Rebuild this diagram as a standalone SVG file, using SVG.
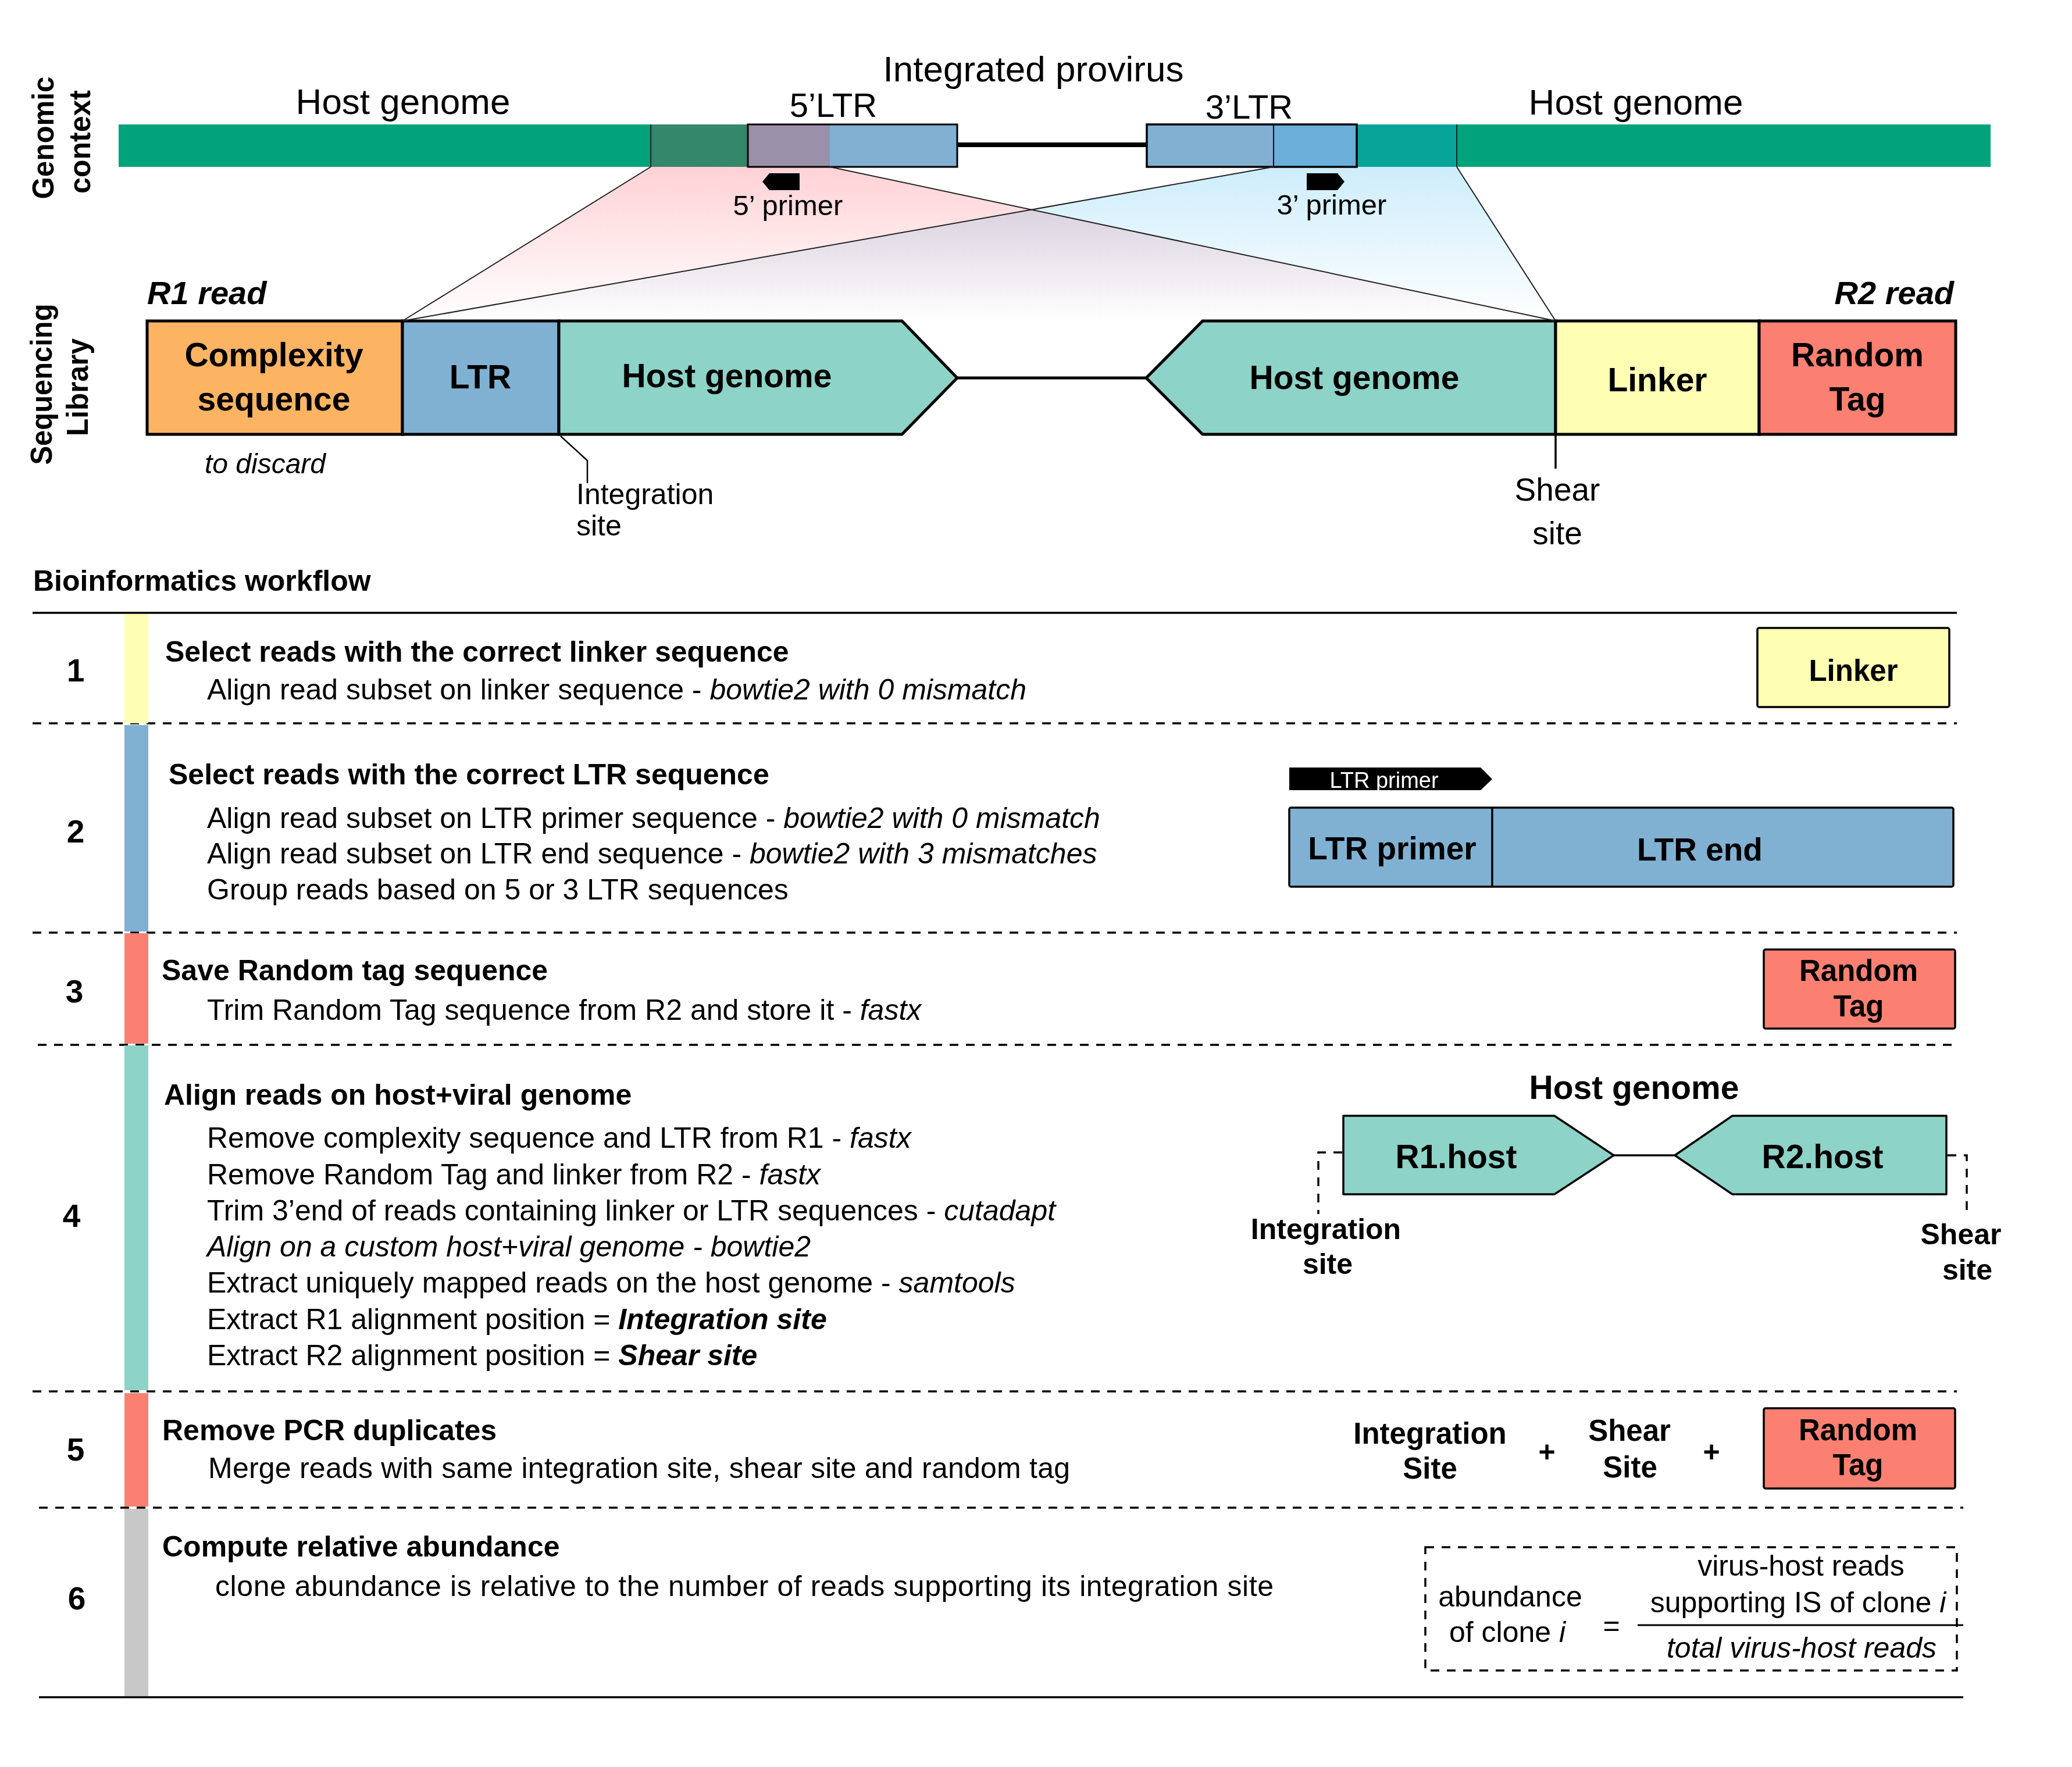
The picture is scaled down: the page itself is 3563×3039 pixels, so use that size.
<svg xmlns="http://www.w3.org/2000/svg" width="3563" height="3039" viewBox="0 0 3563 3039">
<defs>
<linearGradient id="gPink" gradientUnits="userSpaceOnUse" x1="0" y1="287" x2="0" y2="552">
<stop offset="0" stop-color="#FFD2D6"/><stop offset="1" stop-color="#FFFFFF"/>
</linearGradient>
<linearGradient id="gBlue" gradientUnits="userSpaceOnUse" x1="0" y1="287" x2="0" y2="552">
<stop offset="0" stop-color="#CDEDFC"/><stop offset="1" stop-color="#FFFFFF"/>
</linearGradient>
</defs>
<style>
text{font-family:"Liberation Sans",Arial,Helvetica,sans-serif;fill:#000}
.m{text-anchor:middle}
.e{text-anchor:end}
.b{font-weight:bold}
.i{font-style:italic}
.bi{font-weight:bold;font-style:italic}
.top{font-size:62px}
.ltr{font-size:58px}
.prm{font-size:49px}
.lab{font-size:57px;font-weight:bold}
.vert{font-size:52px;font-weight:bold}
.body{font-size:50px}
.head{font-size:50px;font-weight:bold}
.num{font-size:55px;font-weight:bold;text-anchor:middle}
.lib{stroke:#000;stroke-width:5;stroke-linejoin:miter}
.box{stroke:#000;stroke-width:3.5}
.solid{stroke:#000;stroke-width:3.5;fill:none}
.dash{stroke:#000;stroke-width:3.5;stroke-dasharray:15 13;fill:none}
.thin{stroke:#222;stroke-width:2;fill:none}
</style>
<rect x="0" y="0" width="3563" height="3039" fill="#FFFFFF"/>

<!-- side labels -->
<g id="label-genomic-context">
<text class="vert m" transform="translate(92,237) rotate(-90)" textLength="211" lengthAdjust="spacingAndGlyphs">Genomic</text>
<text class="vert m" transform="translate(155,244) rotate(-90)" textLength="178" lengthAdjust="spacingAndGlyphs">context</text>
</g>
<g id="label-sequencing-library">
<text class="vert m" transform="translate(89,661) rotate(-90)" textLength="277" lengthAdjust="spacingAndGlyphs">Sequencing</text>
<text class="vert m" transform="translate(151,666) rotate(-90)" textLength="168" lengthAdjust="spacingAndGlyphs">Library</text>
</g>

<!-- projection trapezoids -->
<g id="projection">
<polygon points="1119,287 1427,287 2675,552 692,552" fill="url(#gPink)"/>
<polygon points="2190,287 2505,287 2675,552 692,552" fill="url(#gBlue)" style="mix-blend-mode:multiply"/>
</g>

<!-- genomic context -->
<g id="genome-bar">
<rect x="204" y="214" width="915" height="73" fill="#00A37A"/>
<rect x="1119" y="214" width="167" height="73" fill="#34876A"/>
<rect x="2333" y="214" width="172" height="73" fill="#07A599"/>
<rect x="2505" y="214" width="918" height="73" fill="#00A37A"/>
<line x1="1119" y1="214" x2="1119" y2="287" stroke="#000" stroke-width="1.5"/>
<line x1="2505" y1="214" x2="2505" y2="287" stroke="#000" stroke-width="1.5"/>
</g>
<g id="ltr5">
<rect x="1286" y="214" width="141" height="73" fill="#9B90A9"/>
<rect x="1427" y="214" width="219" height="73" fill="#82B0D2"/>
<rect x="1286" y="214" width="360" height="73" fill="none" stroke="#000" stroke-width="3"/>
</g>
<g id="ltr3">
<rect x="1972" y="214" width="218" height="73" fill="#82B0D2"/>
<rect x="2190" y="214" width="143" height="73" fill="#6AAFDA"/>
<rect x="1972" y="214" width="361" height="73" fill="none" stroke="#000" stroke-width="3.5"/>
<line x1="2190" y1="214" x2="2190" y2="287" stroke="#000" stroke-width="2"/>
</g>
<g id="primer5">
<polygon points="1323,298 1375,298 1375,327 1323,327 1311,312.5" fill="#000"/>
<text class="prm m" x="1355" y="370">5’ primer</text>
</g>
<g id="primer3">
<polygon points="2247,298 2300,298 2312,312.5 2300,327 2247,327" fill="#000"/>
<text class="prm m" x="2290" y="369">3’ primer</text>
</g>
<g id="top-labels">
<text class="top m" x="693" y="196">Host genome</text>
<text class="ltr m" x="1433" y="201">5’LTR</text>
<text class="top m" x="1777" y="140">Integrated provirus</text>
<text class="ltr m" x="2148" y="204">3’LTR</text>
<text class="top m" x="2813" y="197">Host genome</text>
</g>

<!-- sequencing library -->
<g id="lib-complexity">
<rect class="lib" x="253" y="552" width="439" height="195" fill="#FDB462"/>
<text class="lab m" x="471" y="630">Complexity</text>
<text class="lab m" x="471" y="706">sequence</text>
</g>
<g id="lib-ltr">
<rect class="lib" x="692" y="552" width="269" height="195" fill="#80B1D3"/>
<text class="lab m" x="826" y="668">LTR</text>
</g>
<g id="lib-host1">
<polygon class="lib" points="961,552 1551,552 1646,650 1551,747 961,747" fill="#8DD3C7"/>
<text class="lab m" x="1250" y="666">Host genome</text>
</g>
<g id="lib-host2">
<polygon class="lib" points="1971,650 2068,552 2675,552 2675,747 2068,747" fill="#8DD3C7"/>
<text class="lab m" x="2329" y="669">Host genome</text>
</g>
<g id="lib-linker">
<rect class="lib" x="2675" y="552" width="350" height="195" fill="#FFFFB3"/>
<text class="lab m" x="2850" y="673">Linker</text>
</g>
<g id="lib-tag">
<rect class="lib" x="3025" y="552" width="338" height="195" fill="#FB8072"/>
<text class="lab m" x="3194" y="630">Random</text>
<text class="lab m" x="3194" y="706">Tag</text>
</g>
<g id="lib-labels">
<text class="bi" x="253" y="523" font-size="56">R1 read</text>
<text class="bi e" x="3360" y="523" font-size="56">R2 read</text>
<text class="i m" x="456" y="814" font-size="48">to discard</text>
<text x="991" y="867" font-size="50">Integration</text>
<text x="991" y="921" font-size="50">site</text>
<text class="m" x="2678" y="861" font-size="55">Shear</text>
<text class="m" x="2678" y="936" font-size="55">site</text>
</g>

<g id="connectors">
<line class="thin" x1="1119" y1="287" x2="692" y2="552" stroke-width="1.5"/>
<line class="thin" x1="1427" y1="287" x2="2675" y2="552"/>
<line class="thin" x1="2190" y1="287" x2="692" y2="552"/>
<line class="thin" x1="2505" y1="287" x2="2675" y2="552" stroke-width="1.5"/>
<line x1="1646" y1="249" x2="1972" y2="249" stroke="#000" stroke-width="8"/>
<line x1="1646" y1="650" x2="1971" y2="650" stroke="#000" stroke-width="5"/>
<polyline points="964,750 1010,792 1010,831" fill="none" stroke="#000" stroke-width="2.5"/>
<line x1="2675" y1="747" x2="2675" y2="806" stroke="#000" stroke-width="3.5"/>
<line x1="2775" y1="1987" x2="2880" y2="1987" stroke="#000" stroke-width="3.5"/>
<polyline class="dash" points="2308,1982 2267,1982 2267,2088" stroke-width="3" stroke-dasharray="16 14"/>
<polyline class="dash" points="3349,1987 3382,1987 3382,2092" stroke-width="3" stroke-dasharray="16 14"/>
</g>

<!-- workflow -->
<text class="head" x="57" y="1016">Bioinformatics workflow</text>
<g id="rules">
<line class="solid" x1="56" y1="1054" x2="3365" y2="1054"/>
<line class="dash" x1="56" y1="1244" x2="3365" y2="1244"/>
<line class="dash" x1="56" y1="1604" x2="3365" y2="1604"/>
<line class="dash" x1="65" y1="1797" x2="3365" y2="1797"/>
<line class="dash" x1="56" y1="2393" x2="3365" y2="2393"/>
<line class="dash" x1="67" y1="2593" x2="3376" y2="2593"/>
<line class="solid" x1="67" y1="2919" x2="3376" y2="2919"/>
</g>

<g id="step1">
<rect x="214" y="1056" width="41" height="188" fill="#FFFFB3"/>
<text class="num" x="130" y="1172">1</text>
<text class="head" x="284" y="1138">Select reads with the correct linker sequence</text>
<text class="body" x="356" y="1203">Align read subset on linker sequence - <tspan class="i">bowtie2 with 0 mismatch</tspan></text>
<rect class="box" x="3022" y="1080" width="330" height="136" rx="3" fill="#FFFFB3"/>
<text class="b m" x="3187" y="1171" font-size="51">Linker</text>
</g>

<g id="step2">
<rect x="214" y="1247" width="41" height="355" fill="#80B1D3"/>
<text class="num" x="130" y="1449">2</text>
<text class="head" x="290" y="1349">Select reads with the correct LTR sequence</text>
<text class="body" x="356" y="1424">Align read subset on LTR primer sequence - <tspan class="i">bowtie2 with 0 mismatch</tspan></text>
<text class="body" x="356" y="1485">Align read subset on LTR end sequence - <tspan class="i">bowtie2 with 3 mismatches</tspan></text>
<text class="body" x="356" y="1547">Group reads based on 5 or 3 LTR sequences</text>
<polygon points="2217,1320 2546,1320 2566,1340 2546,1359 2217,1359" fill="#000"/>
<text class="m" x="2380" y="1355" font-size="38" style="fill:#FFFFFF">LTR primer</text>
<rect class="box" x="2217" y="1389" width="1142" height="136" rx="3" fill="#80B1D3"/>
<line x1="2566" y1="1389" x2="2566" y2="1525" stroke="#000" stroke-width="3.5"/>
<text class="b m" x="2394" y="1478" font-size="55">LTR primer</text>
<text class="b m" x="2923" y="1480" font-size="55">LTR end</text>
</g>

<g id="step3">
<rect x="214" y="1605" width="41" height="190" fill="#FB8072"/>
<text class="num" x="128" y="1724">3</text>
<text class="head" x="278" y="1686">Save Random tag sequence</text>
<text class="body" x="356" y="1754">Trim Random Tag sequence from R2 and store it - <tspan class="i">fastx</tspan></text>
<rect class="box" x="3033" y="1633" width="329" height="136" rx="3" fill="#FB8072"/>
<text class="b m" x="3196" y="1687" font-size="51">Random</text>
<text class="b m" x="3196" y="1748" font-size="51">Tag</text>
</g>

<g id="step4">
<rect x="214" y="1798" width="41" height="593" fill="#8DD3C7"/>
<text class="num" x="123" y="2110">4</text>
<text class="head" x="282" y="1900">Align reads on host+viral genome</text>
<text class="body" x="356" y="1974">Remove complexity sequence and LTR from R1 - <tspan class="i">fastx</tspan></text>
<text class="body" x="356" y="2037">Remove Random Tag and linker from R2 - <tspan class="i">fastx</tspan></text>
<text class="body" x="356" y="2099">Trim 3’end of reads containing linker or LTR sequences - <tspan class="i">cutadapt</tspan></text>
<text class="body i" x="356" y="2161">Align on a custom host+viral genome - bowtie2</text>
<text class="body" x="356" y="2223">Extract uniquely mapped reads on the host genome - <tspan class="i">samtools</tspan></text>
<text class="body" x="356" y="2286">Extract R1 alignment position = <tspan class="bi">Integration site</tspan></text>
<text class="body" x="356" y="2348">Extract R2 alignment position = <tspan class="bi">Shear site</tspan></text>
<text class="b m" x="2810" y="1890" font-size="57">Host genome</text>
</g>
<g id="r1host">
<polygon class="box" points="2310,1919 2673,1919 2775,1987 2673,2054 2310,2054" fill="#8DD3C7" stroke-linejoin="round"/>
<text class="b m" x="2504" y="2009" font-size="57">R1.host</text>
</g>
<g id="r2host">
<polygon class="box" points="2880,1987 2979,1919 3347,1919 3347,2054 2979,2054" fill="#8DD3C7" stroke-linejoin="round"/>
<text class="b m" x="3134" y="2009" font-size="57">R2.host</text>
</g>
<g id="step4-labels">
<text class="b m" x="2280" y="2131" font-size="50">Integration</text>
<text class="b m" x="2283" y="2191" font-size="50">site</text>
<text class="b m" x="3372" y="2140" font-size="50">Shear</text>
<text class="b m" x="3383" y="2201" font-size="50">site</text>
</g>

<g id="step5">
<rect x="214" y="2396" width="41" height="195" fill="#FB8072"/>
<text class="num" x="130" y="2512">5</text>
<text class="head" x="279" y="2477">Remove PCR duplicates</text>
<text class="body" x="358" y="2542" textLength="1482">Merge reads with same integration site, shear site and random tag</text>
<text class="b m" x="2459" y="2483" font-size="51">Integration</text>
<text class="b m" x="2459" y="2543" font-size="51">Site</text>
<text class="b m" x="2660" y="2514" font-size="50">+</text>
<text class="b m" x="2802" y="2478" font-size="51">Shear</text>
<text class="b m" x="2803" y="2541" font-size="51">Site</text>
<text class="b m" x="2943" y="2514" font-size="50">+</text>
<rect class="box" x="3033" y="2422" width="329" height="138" rx="3" fill="#FB8072"/>
<text class="b m" x="3195" y="2477" font-size="51">Random</text>
<text class="b m" x="3195" y="2537" font-size="51">Tag</text>
</g>

<g id="step6">
<rect x="214" y="2595" width="41" height="322" fill="#C8C8C8"/>
<text class="num" x="132" y="2768">6</text>
<text class="head" x="279" y="2677">Compute relative abundance</text>
<text class="body" x="370" y="2745" textLength="1820">clone abundance is relative to the number of reads supporting its integration site</text>
</g>
<g id="formula">
<rect class="dash" x="2451" y="2661" width="914" height="212" stroke-width="3"/>
<text class="body m" x="2597" y="2763">abundance</text>
<text class="body m" x="2592" y="2824">of clone <tspan class="i">i</tspan></text>
<text class="body m" x="2771" y="2813">=</text>
<text class="body m" x="3097" y="2710">virus-host reads</text>
<text class="body m" x="3092" y="2773">supporting IS of clone <tspan class="i">i</tspan></text>
<line x1="2816" y1="2795" x2="3376" y2="2795" stroke="#000" stroke-width="3"/>
<text class="body m i" x="3098" y="2851">total virus-host reads</text>
</g>
</svg>
